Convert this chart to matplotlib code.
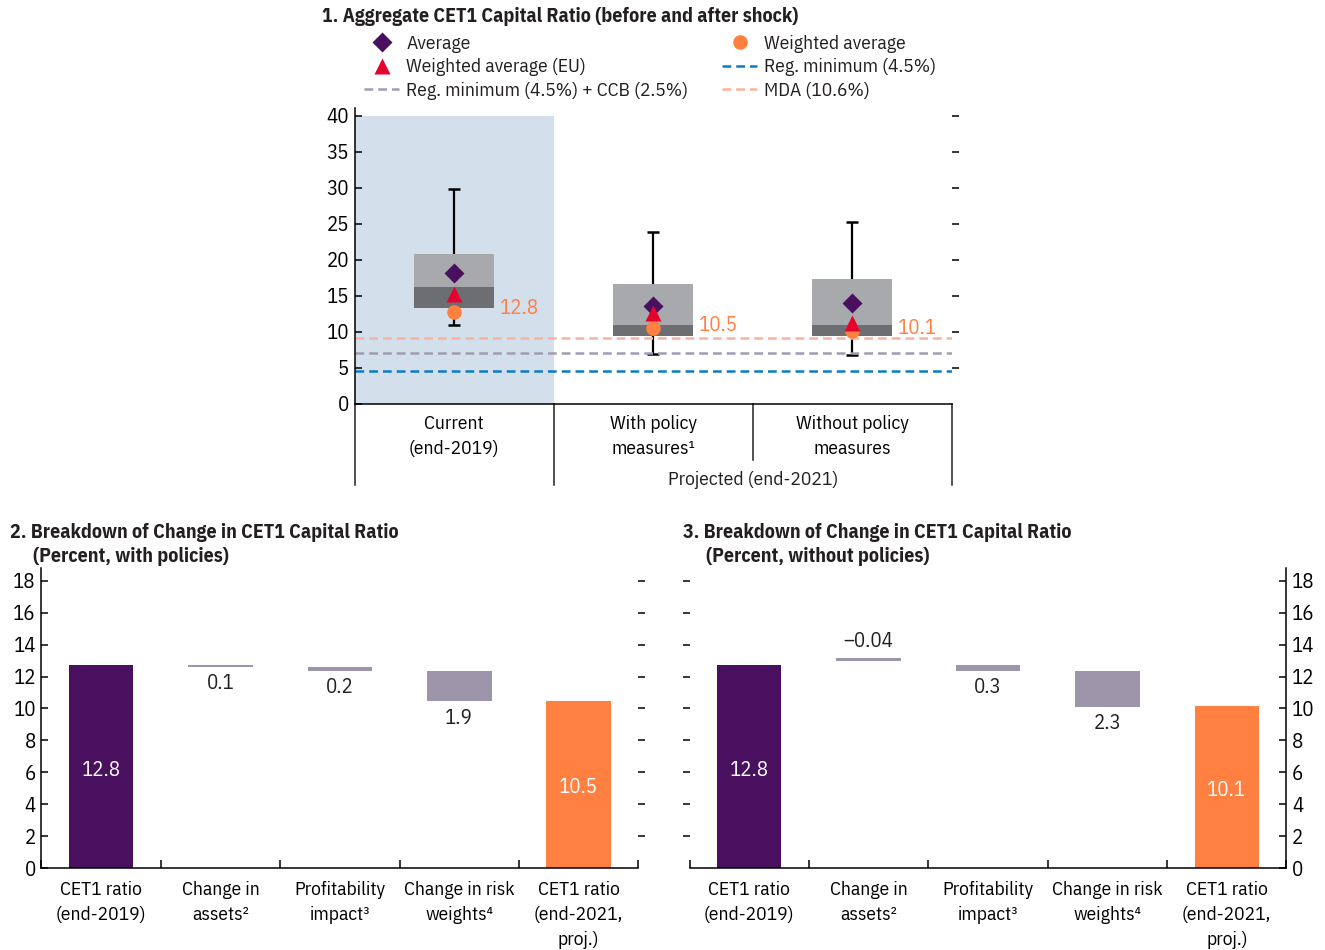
import numpy as np
import matplotlib
matplotlib.use("Agg")
import matplotlib.pyplot as plt
from matplotlib.lines import Line2D
from matplotlib.transforms import blended_transform_factory

plt.rcParams['font.family'] = ['IBM Plex Sans Condensed', 'DejaVu Sans']
plt.rcParams['axes.linewidth'] = 1.1
plt.rcParams['text.color'] = '#231F20'

# ---- panel 1: distribution of CET1 ratios
groups = ["Current\n(end-2019)", "With policy\nmeasures\u00b9", "Without policy\nmeasures"]
whisker_lo = [10.9, 6.9, 6.8]
q1 = [13.3, 9.4, 9.4]
median = [16.2, 10.9, 10.9]
q3 = [20.8, 16.6, 17.3]
whisker_hi = [29.8, 23.9, 25.2]
average = [18.2, 13.5, 14.0]
wavg_eu = [15.3, 12.6, 11.2]
wavg = [12.8, 10.5, 10.1]
reg_min = 4.5
reg_ccb = 7.0
mda_line = 9.1

# ---- panels 2 and 3: waterfall
steps = ["CET1 ratio\n(end-2019)", "Change in\nassets\u00b2", "Profitability\nimpact\u00b3",
         "Change in risk\nweights\u2074", "CET1 ratio\n(end-2021,\nproj.)"]
with_bottom = [0, 12.6, 12.35, 10.45, 0]
with_top = [12.7, 12.7, 12.6, 12.35, 10.45]
with_labels = ["12.8", "0.1", "0.2", "1.9", "10.5"]
without_bottom = [0, 12.95, 12.35, 10.1, 0]
without_top = [12.75, 13.15, 12.75, 12.35, 10.15]
without_labels = ["12.8", "\u20130.04", "0.3", "2.3", "10.1"]

PURPLE = '#4A1060'
ORANGE = '#FF8040'
RED = '#E4032E'
BLUE = '#0A7DC2'
GRAYLINE = '#A29BB2'
SALMON = '#F8B39C'
BARGRAY = '#9D95AA'
INK = '#231F20'

FS = 14
NUM = 15
LSP = 1.5

fig = plt.figure(figsize=(13.25, 9.5), dpi=100)

# ================= panel 1
ax1 = fig.add_axes([0.2677, 0.5751, 0.4505, 0.3107])
x = np.arange(len(groups))
ax1.fill_between([-0.5, 0.5], 0, 40, color='#D3E0EC', lw=0, zorder=0)
ax1.vlines(x, whisker_lo, whisker_hi, color='k', lw=1.6, zorder=1)
ax1.hlines(whisker_lo, x - 0.03, x + 0.03, color='k', lw=1.8, zorder=1)
ax1.hlines(whisker_hi, x - 0.03, x + 0.03, color='k', lw=1.8, zorder=1)
ax1.bar(x, np.subtract(median, q1), bottom=q1, width=0.405, color='#6D6E71', zorder=2)
ax1.bar(x, np.subtract(q3, median), bottom=median, width=0.405, color='#A7A9AC', zorder=2)

dash = (3.5, 2)
ax1.axhline(mda_line, color=SALMON, lw=1.8, dashes=dash, zorder=1.5)
ax1.axhline(reg_ccb, color=GRAYLINE, lw=1.8, dashes=dash, zorder=1.5)
ax1.axhline(reg_min, color=BLUE, lw=1.8, dashes=dash, zorder=1.5)

ax1.plot(x, wavg, 'o', color=ORANGE, ms=10.5, mec='none', zorder=3)
ax1.plot(x, average, 'D', color=PURPLE, ms=10.5, mec='none', zorder=4)
ax1.plot(x, wavg_eu, '^', color=RED, ms=11, mec='none', zorder=5)
for i in x:
    ax1.text(i + 0.23, wavg[i] + 0.4, f"{wavg[i]}", color=ORANGE, fontsize=NUM,
             va='center', ha='left')

ax1.set_xlim(-0.5, 2.5)
ax1.set_ylim(0, 41)
ax1.set_yticks(range(0, 41, 5))
ax1.tick_params(axis='y', direction='in', length=5, width=1.1, labelsize=NUM, pad=4)
ax1.set_xticks(x, groups)
ax1.tick_params(axis='x', length=0, labelsize=FS, pad=8)
for lab in ax1.get_xticklabels():
    lab.set_linespacing(LSP)
for s in ['top', 'right']:
    ax1.spines[s].set_visible(False)
sec = ax1.secondary_yaxis('right')
sec.set_yticks(range(5, 41, 5))
sec.tick_params(direction='out', length=5, width=1.1, labelright=False)
sec.spines['right'].set_visible(False)

tr = blended_transform_factory(ax1.transData, ax1.transAxes)
for xv, depth in zip([-0.5, 0.5, 1.5, 2.5], [-0.275, -0.275, -0.19, -0.275]):
    ax1.plot([xv, xv], [0, depth], transform=tr, clip_on=False, color=INK, lw=1.1)
ax1.text(1.5, -0.258, "Projected (end-2021)", transform=tr, ha='center', va='center',
         fontsize=FS)

handles = [
    Line2D([], [], marker='D', ls='none', color=PURPLE, ms=10.5, mec='none'),
    Line2D([], [], marker='^', ls='none', color=RED, ms=11, mec='none'),
    Line2D([], [], color=GRAYLINE, lw=1.8, dashes=dash),
    Line2D([], [], marker='o', ls='none', color=ORANGE, ms=10.5, mec='none'),
    Line2D([], [], color=BLUE, lw=1.8, dashes=dash),
    Line2D([], [], color=SALMON, lw=1.8, dashes=dash),
]
labels = ["Average", "Weighted average (EU)", "Reg. minimum (4.5%) + CCB (2.5%)",
          "Weighted average", "Reg. minimum (4.5%)", "MDA (10.6%)"]
fig.legend(handles, labels, ncol=2, loc='upper left', bbox_to_anchor=(0.275, 0.9636),
           frameon=False, fontsize=FS, handlelength=1.8, handletextpad=0.35,
           columnspacing=1.76, labelspacing=0.3, borderpad=0, borderaxespad=0)

fig.text(322 / 1325, 1 - 16 / 950, "1. Aggregate CET1 Capital Ratio (before and after shock)",
         fontsize=14.3, fontweight='bold', va='center', ha='left')


# ================= panels 2 and 3
def waterfall(ax, bottoms, tops, labs, right_axis):
    xs = np.arange(len(steps))
    cols = [PURPLE, BARGRAY, BARGRAY, BARGRAY, ORANGE]
    ax.bar(xs, np.subtract(tops, bottoms), bottom=bottoms, width=0.54, color=cols, zorder=2)
    for i, lab in enumerate(labs):
        if i in (0, len(labs) - 1):
            ax.text(i, tops[i] * 0.48, lab, color='white', ha='center', va='center',
                    fontsize=NUM)
        elif lab.startswith("\u2013"):
            ax.text(i, tops[i] + 1.05, lab, ha='center', va='center', fontsize=NUM)
        else:
            ax.text(i, bottoms[i] - 1.05, lab, ha='center', va='center', fontsize=NUM)
    ax.set_xlim(-0.5, 4.5)
    ax.set_ylim(0, 18.8)
    ax.set_xticks(xs, steps)
    ax.set_xticks(np.arange(-0.5, 5, 1), minor=True)
    ax.tick_params(axis='x', which='major', length=0, labelsize=FS, pad=9)
    for lab in ax.get_xticklabels():
        lab.set_linespacing(LSP)
    ax.tick_params(axis='x', which='minor', direction='in', length=6, width=1.1)
    ax.set_yticks(range(0, 19, 2))
    ax.spines['top'].set_visible(False)
    if right_axis:
        ax.spines['left'].set_visible(False)
        ax.yaxis.tick_right()
        other = 'left'
    else:
        ax.spines['right'].set_visible(False)
        other = 'right'
    ax.tick_params(axis='y', direction='in', length=5, width=1.1, labelsize=NUM, pad=4)
    sec = ax.secondary_yaxis(other)
    sec.set_yticks(range(2, 19, 2))
    sec.tick_params(direction='out', length=5, width=1.1, labelleft=False, labelright=False)
    sec.spines[other].set_visible(False)


ax2 = fig.add_axes([0.0313, 0.0863, 0.4505, 0.3158])
waterfall(ax2, with_bottom, with_top, with_labels, False)
ax3 = fig.add_axes([0.5204, 0.0863, 0.4505, 0.3158])
waterfall(ax3, without_bottom, without_top, without_labels, True)

fig.text(10 / 1325, 1 - 532 / 950, "2. Breakdown of Change in CET1 Capital Ratio",
         fontsize=14.3, fontweight='bold', va='center')
fig.text(33 / 1325, 1 - 556 / 950, "(Percent, with policies)",
         fontsize=14.3, fontweight='bold', va='center')
fig.text(683 / 1325, 1 - 532 / 950, "3. Breakdown of Change in CET1 Capital Ratio",
         fontsize=14.3, fontweight='bold', va='center')
fig.text(706 / 1325, 1 - 556 / 950, "(Percent, without policies)",
         fontsize=14.3, fontweight='bold', va='center')

fig.savefig("out.png", dpi=100)
